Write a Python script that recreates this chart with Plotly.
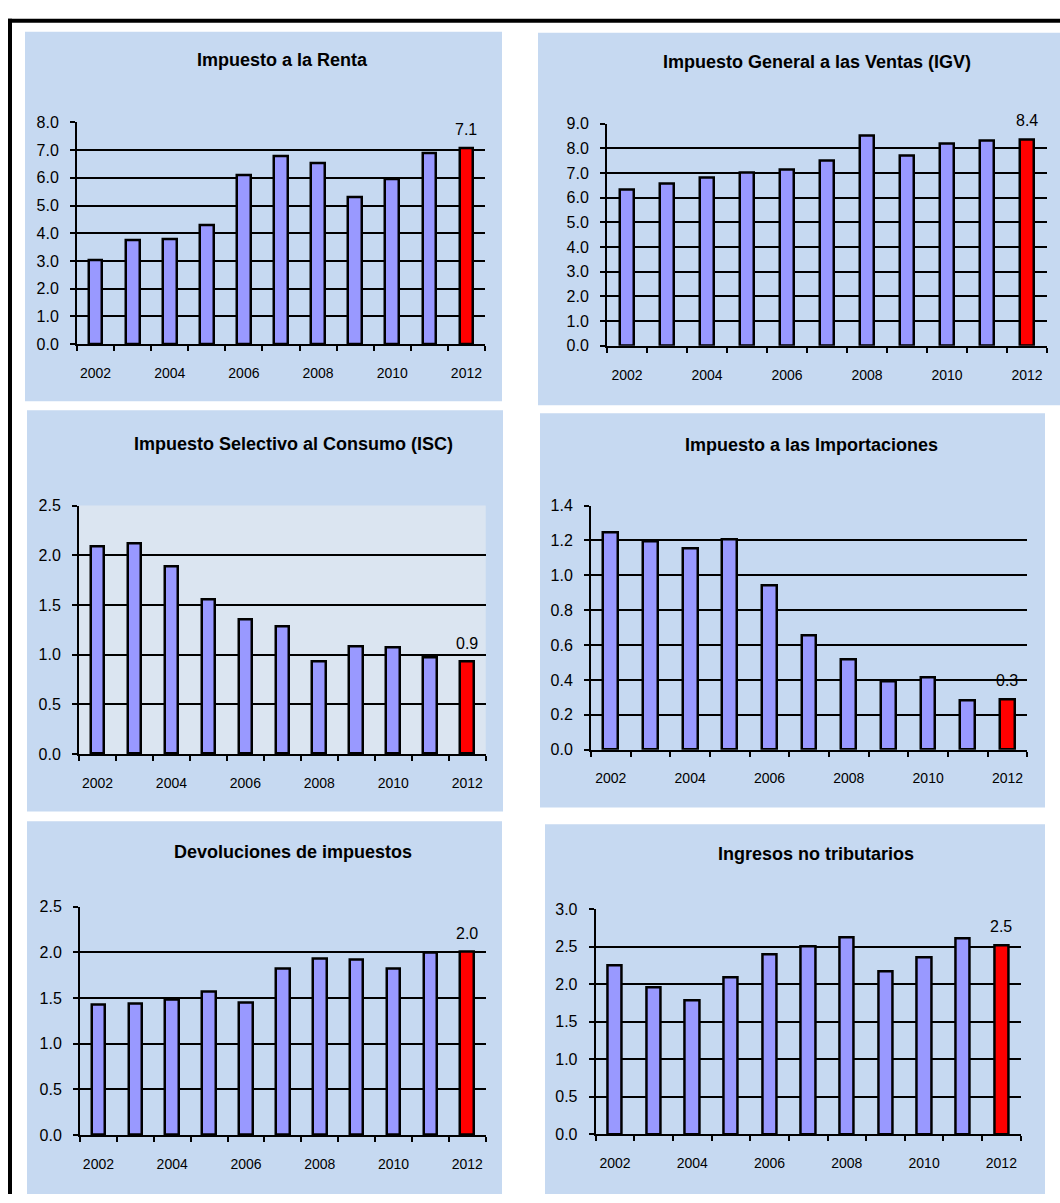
import plotly.graph_objects as go

# ---- data (% of GDP) ----
years = list(range(2002, 2013))
year_ticks = [2002, 2004, 2006, 2008, 2010, 2012]

renta = [3.02, 3.73, 3.79, 4.28, 6.08, 6.79, 6.52, 5.31, 5.94, 6.90, 7.06]
igv = [6.33, 6.59, 6.80, 7.00, 7.12, 7.52, 8.51, 7.72, 8.19, 8.31, 8.36]
isc = [2.09, 2.12, 1.885, 1.55, 1.35, 1.28, 0.93, 1.085, 1.075, 0.975, 0.93]
importaciones = [1.244, 1.193, 1.155, 1.204, 0.942, 0.656, 0.514, 0.39, 0.416, 0.283, 0.288]
devoluciones = [1.43, 1.44, 1.478, 1.57, 1.445, 1.82, 1.934, 1.92, 1.826, 1.996, 2.006]
no_tributarios = [2.25, 1.955, 1.784, 2.09, 2.40, 2.51, 2.62, 2.166, 2.36, 2.61, 2.52]

titles = [
    "Impuesto a la Renta",
    "Impuesto General a las Ventas (IGV)",
    "Impuesto Selectivo al Consumo (ISC)",
    "Impuesto a las Importaciones",
    "Devoluciones de impuestos",
    "Ingresos no tributarios",
]
series = [renta, igv, isc, importaciones, devoluciones, no_tributarios]
y_max = [8.0, 9.0, 2.5, 1.4, 2.5, 3.0]
y_step = [1.0, 1.0, 0.5, 0.2, 0.5, 0.5]

# ---- page geometry (pixels) ----
W, H = 1060, 1203
# panel background boxes: x0, x1, y0, y1
panel_boxes = [
    (25, 502, 24, 399),
    (538, 1060, 25, 403),
    (27, 503, 408, 815),
    (540, 1045, 411, 811),
    (27, 502, 825, 1203),
    (545, 1045, 828, 1203),
]
# plot areas: x0, x1, y_top, y_bottom
plot_boxes = [
    (77, 485, 116, 341),
    (607, 1047, 117.3, 342.7),
    (79, 485.7, 504.7, 756.7),
    (591, 1027.3, 504.7, 752.3),
    (80, 485.7, 911.7, 1143.3),
    (595.7, 1020.7, 914.3, 1142.3),
]
# title centres
title_pos = [(282, 53), (817, 55), (293, 442), (811, 443), (293, 856), (816, 858)]

PANEL_BG = "#C6D9F1"
BAR_BLUE = "#9999FF"
BAR_RED = "#FF0000"
FONT = "Liberation Sans, Arial, sans-serif"


def px_x(v):
    return v / W


def px_y(v):
    return 1 - v / H


fig = go.Figure()
shapes = []
annotations = []

for i, (title, vals) in enumerate(zip(titles, series)):
    n = i + 1
    xa = "x" if n == 1 else f"x{n}"
    ya = "y" if n == 1 else f"y{n}"
    xkey = "xaxis" if n == 1 else f"xaxis{n}"
    ykey = "yaxis" if n == 1 else f"yaxis{n}"

    colors = [BAR_BLUE] * (len(vals) - 1) + [BAR_RED]
    fig.add_trace(go.Bar(
        x=years, y=vals, xaxis=xa, yaxis=ya,
        width=0.37,
        marker=dict(color=colors, line=dict(color="black", width=2.5)),
        showlegend=False, hoverinfo="x+y",
    ))

    bx0, bx1, by0, by1 = panel_boxes[i]
    shapes.append(dict(
        type="rect", xref="paper", yref="paper", layer="below",
        x0=px_x(bx0), x1=px_x(bx1), y0=px_y(by1), y1=px_y(by0),
        fillcolor=PANEL_BG, line=dict(width=0),
    ))

    px0, px1, pyt, pyb = plot_boxes[i]
    fig.layout[xkey] = dict(
        domain=[px_x(px0), px_x(px1)], anchor=ya,
        range=[2001.5, 2012.5], fixedrange=True,
        tickmode="array", tickvals=year_ticks,
        ticktext=[str(y) for y in year_ticks],
        ticks="outside", ticklen=15, tickcolor="rgba(0,0,0,0)",
        tickfont=dict(family=FONT, size=14, color="black"),
        showline=True, linecolor="black", linewidth=2,
        showgrid=False, zeroline=False,
        minor=dict(tickmode="linear", tick0=2001.5, dtick=1,
                   ticks="outside", ticklen=5, tickwidth=1.5,
                   tickcolor="black", showgrid=False),
    )
    fig.layout[ykey] = dict(
        domain=[px_y(pyb), px_y(pyt)], anchor=xa,
        range=[0, y_max[i]], fixedrange=True,
        tickmode="linear", tick0=0, dtick=y_step[i], tickformat=".1f",
        ticks="outside", ticklen=5, tickwidth=1.5, tickcolor="black",
        ticklabelstandoff=8,
        tickfont=dict(family=FONT, size=16, color="black"),
        showline=True, linecolor="black", linewidth=2,
        showgrid=True, gridcolor="black", gridwidth=1.8,
        zeroline=False,
    )

    # lighter plotting area for the ISC panel
    if n == 3:
        shapes.append(dict(
            type="rect", xref=f"{xa} domain", yref=f"{ya} domain",
            layer="below", x0=0, x1=1, y0=0, y1=1,
            fillcolor="#DBE5F1", line=dict(width=0),
        ))

    tx, ty = title_pos[i]
    annotations.append(dict(
        text=f"<b>{title}</b>", xref="paper", yref="paper",
        x=px_x(tx), y=px_y(ty), xanchor="center", yanchor="middle",
        showarrow=False, font=dict(family=FONT, size=18, color="black"),
    ))

    # value label on the latest year
    annotations.append(dict(
        text=f"{vals[-1]:.1f}", xref=xa, yref=ya,
        x=years[-1], y=vals[-1], xanchor="center", yanchor="bottom",
        yshift=8, showarrow=False,
        font=dict(family=FONT, size=16, color="black"),
    ))

# outer frame (top and left edges)
shapes.append(dict(type="line", xref="paper", yref="paper",
                   x0=px_x(8), x1=1.0, y0=px_y(13), y1=px_y(13),
                   line=dict(color="black", width=4)))
shapes.append(dict(type="line", xref="paper", yref="paper",
                   x0=px_x(10), x1=px_x(10), y0=px_y(11), y1=0.0,
                   line=dict(color="black", width=4)))

fig.update_layout(
    width=W, height=H,
    margin=dict(l=0, r=0, t=0, b=0),
    paper_bgcolor="white", plot_bgcolor="rgba(0,0,0,0)",
    shapes=shapes, annotations=annotations,
    bargap=0, showlegend=False,
    font=dict(family=FONT, color="black"),
)

# page without the default body margin so the figure fills the window
fig.write_html(
    "out.html",
    config={"displayModeBar": False},
    post_script="document.documentElement.style.margin='0';"
                "document.body.style.margin='0';"
                "document.body.style.overflow='hidden';",
)
